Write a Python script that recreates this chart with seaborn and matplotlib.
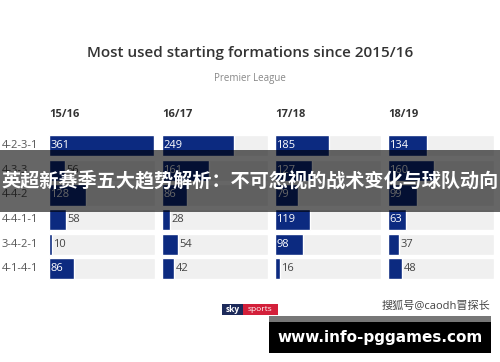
import seaborn as sns
import matplotlib.pyplot as plt
import matplotlib.transforms as mtransforms
from matplotlib.patches import Rectangle

# data
formations = ['4-2-3-1', '4-3-3', '4-4-2', '4-4-1-1', '3-4-2-1', '4-1-4-1']
seasons = ['15/16', '16/17', '17/18', '18/19']
s1516 = [361, 56, 128, 58, 10, 86]
s1617 = [249, 161, 86, 28, 54, 42]
s1718 = [185, 127, 79, 119, 98, 16]
s1819 = [134, 160, 99, 63, 37, 48]
season_values = [s1516, s1617, s1718, s1819]

title = 'Most used starting formations since 2015/16'
subtitle = 'Premier League'
banner = '英超新赛季五大趋势解析：不可忽视的战术变化与球队动向'
credit = '搜狐号@caodh冒探长'
site = 'www.info-pggames.com'

sns.set_style('white')
plt.rcParams['font.family'] = ['Open Sans', 'Noto Sans CJK SC', 'DejaVu Sans']

W, H = 500, 362
navy = '#0c2a80'
rowbg = '#f0f0f0'
xmax = 365

fig = plt.figure(figsize=(W / 100, H / 100), dpi=100)
fig.patch.set_facecolor('white')


def fx(px):
    return px / W


def fy(py):
    return 1 - py / H


panel_left = [49, 162, 275, 388]
panel_w = 106
top, bottom = 133.5, 281

axes = []
for left, season, vals in zip(panel_left, seasons, season_values):
    ax = fig.add_axes([fx(left), fy(bottom), fx(panel_w), (bottom - top) / H])
    sns.barplot(x=[xmax] * len(formations), y=formations, color=rowbg,
                width=0.86, orient='h', ax=ax, saturation=1)
    sns.barplot(x=vals, y=formations, color=navy, width=0.86, orient='h',
                ax=ax, saturation=1)
    ax.set_xlim(0, xmax)
    ax.set_ylim(len(formations) - 0.5, -0.5)
    ax.axis('off')
    for i, v in enumerate(vals):
        if v >= 60:
            ax.text(4, i, str(v), color='white', va='center', ha='left',
                    fontsize=8)
        else:
            ax.text(v + 5, i, str(v), color='#444444', va='center',
                    ha='left', fontsize=8)
    ax.text(0, -0.5 - 0.55, season, color='#333333', fontsize=8,
            fontweight='bold', ha='left', va='bottom')
    axes.append(ax)

# formation labels on the left
trans = mtransforms.blended_transform_factory(fig.transFigure, axes[0].transData)
for i, f in enumerate(formations):
    axes[0].text(fx(2), i, f, transform=trans, color='#555555', fontsize=8,
                 ha='left', va='center', clip_on=False)

fig.text(0.5, fy(53), title, ha='center', va='center', fontsize=11,
         color='#333333', fontweight='semibold')
fig.text(0.5, fy(78), subtitle, ha='center', va='center', fontsize=7,
         color='#888888')

# dark banner across the chart
fig.add_artist(Rectangle((0, fy(212)), 1, (212 - 150) / H,
                         transform=fig.transFigure, facecolor='black',
                         alpha=0.6, edgecolor='none', zorder=5))
fig.text(0.5, fy(181), banner, ha='center', va='center', fontsize=13.8,
         color='white', fontweight='bold', zorder=6,
         family=['Noto Sans CJK SC', 'DejaVu Sans'])

# sky sports logo
fig.add_artist(Rectangle((fx(222), fy(315)), fx(21), 11 / H,
                         transform=fig.transFigure, facecolor='#1c2a5a',
                         edgecolor='none', zorder=5))
fig.add_artist(Rectangle((fx(243), fy(315)), fx(35), 11 / H,
                         transform=fig.transFigure, facecolor='#d3203a',
                         edgecolor='none', zorder=5))
fig.text(fx(232.5), fy(309.5), 'sky', ha='center', va='center', fontsize=6,
         color='white', fontweight='bold', zorder=6)
fig.text(fx(260.5), fy(309.5), 'sports', ha='center', va='center',
         fontsize=6, color='white', zorder=6)

fig.text(fx(490), fy(306), credit, ha='right', va='center', fontsize=8,
         color='#444444')

# footer box
fig.add_artist(Rectangle((fx(269), fy(322)), fx(222), 6 / H,
                         transform=fig.transFigure, facecolor='#777777',
                         edgecolor='none', zorder=5))
fig.add_artist(Rectangle((fx(269), fy(353)), fx(222), 31 / H,
                         transform=fig.transFigure, facecolor='black',
                         edgecolor='none', zorder=5))
fig.text(fx(380), fy(337.5), site, ha='center', va='center', fontsize=11,
         color='white', fontweight='bold', zorder=6, family='DejaVu Sans')

fig.savefig('out.png', dpi=100)
